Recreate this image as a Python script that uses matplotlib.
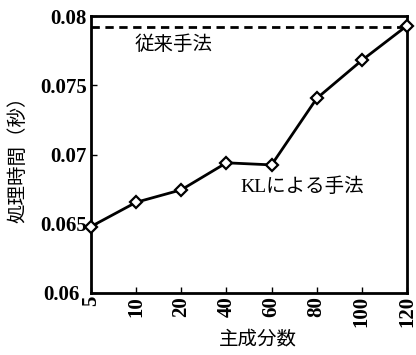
import matplotlib
matplotlib.use("Agg")
import matplotlib.pyplot as plt
import matplotlib.transforms as mtransforms
import numpy as np

# number of principal components vs processing time
components = ["5", "10", "20", "40", "60", "80", "100", "120"]
kl_time = [0.0648, 0.06655, 0.06745, 0.0694, 0.06925, 0.07405, 0.0768, 0.0793]
conventional_time = 0.0792

yticks = [0.06, 0.065, 0.07, 0.075, 0.08]
ytick_labels = ["0.06", "0.065", "0.07", "0.075", "0.08"]

SERIF = "Liberation Serif"
JP = ["Liberation Serif", "Noto Sans CJK JP"]

fig = plt.figure(figsize=(4.16, 3.55), dpi=100)
ax = fig.add_axes([91 / 416, 1 - 293 / 355, 316 / 416, 277 / 355])

xs = np.arange(len(components))
ax.plot(xs, kl_time, color="black", linewidth=2.0, marker="D",
        markersize=6, markerfacecolor="white", markeredgecolor="black",
        markeredgewidth=1.6, clip_on=False, zorder=3)
ax.axhline(conventional_time, color="black", linewidth=2.0,
           linestyle=(0, (3, 2)))

ax.set_xlim(0, len(components) - 1)
ax.set_ylim(0.06, 0.08)
ax.set_xticks(xs)
ax.set_xticklabels(components, rotation=90, fontfamily=SERIF, fontsize=15,
                   fontweight="bold")
ax.set_yticks(yticks)
ax.set_yticklabels(ytick_labels, fontfamily=SERIF, fontsize=15,
                   fontweight="bold")
ax.tick_params(axis="both", direction="in", length=4, width=1.0)
ax.tick_params(axis="x", pad=2)
ax.tick_params(axis="y", pad=3)
for spine in ax.spines.values():
    spine.set_linewidth(2.0)

# nudge the bottom y label left so it clears the "5" below the corner
offset = mtransforms.ScaledTranslation(-5 / 72.0, 0, fig.dpi_scale_trans)
lbl = ax.yaxis.get_majorticklabels()[0]
lbl.set_transform(lbl.get_transform() + offset)

ax.text(135 / 416, 1 - 45 / 355, "従来手法", transform=fig.transFigure,
        family=JP, fontsize=14, va="center", ha="left")
ax.text(240 / 416, 1 - 187 / 355, "KLによる手法", transform=fig.transFigure,
        family=JP, fontsize=14, va="center", ha="left")

fig.text(258 / 416, 1 - 340 / 355, "主成分数", family=JP, fontsize=14,
         ha="center", va="center")
fig.text(18 / 416, 1 - 155 / 355, "処理時間（秒）", family=JP, fontsize=14,
         ha="center", va="center", rotation=90)

fig.savefig("out.png", dpi=100)
